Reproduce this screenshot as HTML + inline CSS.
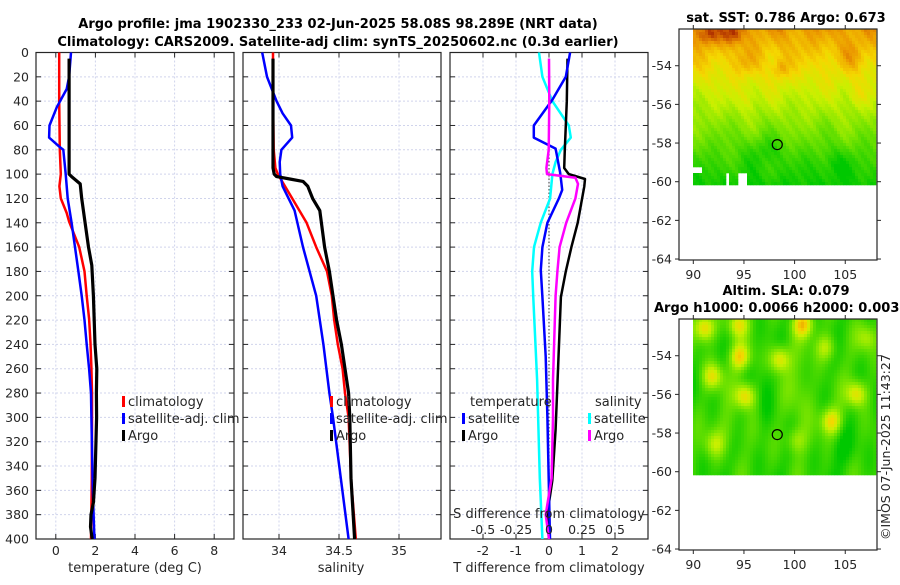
<!DOCTYPE html>
<html><head><meta charset="utf-8"><style>
body{margin:0;background:#fff}
svg text{font-family:"DejaVu Sans","Liberation Sans",sans-serif;fill:#262626}
</style></head><body>
<svg id="s" width="900" height="580" viewBox="0 0 900 580" xmlns="http://www.w3.org/2000/svg">
<text x="338" y="28" text-anchor="middle" font-size="13" font-weight="bold" style="fill:#000">Argo profile: jma 1902330_233 02-Jun-2025 58.08S 98.289E (NRT data)</text>
<text x="338" y="46" text-anchor="middle" font-size="13" font-weight="bold" style="fill:#000">Climatology: CARS2009. Satellite-adj clim: synTS_20250602.nc (0.3d earlier)</text>
<g id="g"></g>
</svg>
<script>
// ---- data (depths in m) ----
const climTDepth=[0,40,80,100,110,120,132,139,160,180,200,219,239,259,280,300,350,400];
const climT=[0.17,0.17,0.2,0.25,0.18,0.25,0.55,0.67,1.18,1.45,1.56,1.68,1.75,1.8,1.83,1.83,1.82,1.78];
const satTDepth=[0,20,30,45,60,70,78,80,100,120,140,160,180,200,220,240,260,280,300,360,400];
const satT=[0.77,0.67,0.55,0.05,-0.32,-0.34,0.22,0.38,0.5,0.6,0.8,0.97,1.14,1.31,1.45,1.56,1.68,1.78,1.8,1.87,1.95];
const argoTDepth=[5,100,102,108,120,140,160,175,200,240,260,280,300,350,370,380,390,400];
const argoT=[0.67,0.67,0.8,1.23,1.31,1.48,1.65,1.82,1.9,1.98,2.07,2.05,2.06,1.98,1.9,1.78,1.75,1.84];
const climSDepth=[0,40,80,95,100,110,120,140,160,180,200,220,240,260,280,300,350,400];
const climS=[33.95,33.95,33.956,33.97,33.99,34.05,34.11,34.23,34.31,34.4,34.44,34.46,34.49,34.53,34.55,34.58,34.6,34.64];
const satSDepth=[0,20,30,40,50,60,70,80,90,100,110,130,160,200,240,280,300,400];
const satS=[33.86,33.9,33.94,33.98,34.03,34.1,34.11,34.02,34.006,34.01,34.03,34.13,34.2,34.31,34.37,34.42,34.45,34.58];
const argoSDepth=[5,95,100,102,104,106,110,120,130,160,180,200,220,240,260,280,300,350,400];
const argoS=[33.95,33.95,33.96,33.98,34.09,34.2,34.24,34.28,34.34,34.38,34.42,34.45,34.48,34.52,34.55,34.58,34.59,34.6,34.63];
const dSatTDepth=[0,20,39,60,70,79,99,113,120,140,160,179,201,250,300,400];
const dSatT=[0.64,0.51,0.1,-0.46,-0.46,0.2,0.34,0.4,0.3,-0.05,-0.2,-0.25,-0.2,-0.1,-0.05,0.03];
const dArgoTDepth=[5,40,80,95,100,104,110,140,160,180,201,269,310,352,379,400];
const dArgoT=[0.56,0.54,0.48,0.46,0.6,1.09,1.07,0.87,0.68,0.51,0.36,0.26,0.2,0.1,-0.05,0];
const dSatSDepth=[0,20,40,60,70,80,90,100,120,140,160,180,200,269,350,400];
const dSatS=[-0.076,-0.05,0.026,0.15,0.165,0.09,0.05,0.026,0.008,-0.063,-0.114,-0.127,-0.12,-0.09,-0.07,-0.05];
const dArgoSDepth=[5,40,80,95,100,103,108,120,140,160,180,200,269,300,350,380,400];
const dArgoS=[0,0.002,-0.002,-0.02,-0.015,0.2,0.22,0.2,0.13,0.08,0.064,0.05,0.03,0.03,0.02,-0.025,0];
const depthTicks=[0,20,40,60,80,100,120,140,160,180,200,220,240,260,280,300,320,340,360,380,400];
const tTicks=[0,2,4,6,8];
const sTicks=[34,34.5,35];
const dTicks=[-2,-1,0,1,2];
const dTickLabels=['-2','-1','0','1','2'];
const dsTicks=[-0.5,-0.25,0,0.25,0.5];
const dsTickLabels=['-0.5','-0.25','0','0.25','0.5'];
const mapLonTicks=[90,95,100,105];
const mapLatTicks=[-54,-56,-58,-60,-62,-64];
const argoLon=98.289, argoLat=-58.08;

const NS='http://www.w3.org/2000/svg';
const G=document.getElementById('g');
function mk(tag,attrs,parent){const e=document.createElementNS(NS,tag);for(const k in attrs)e.setAttribute(k,attrs[k]);(parent||G).appendChild(e);return e;}
const Y0=52.5,Y1=539;
const yD=d=>Y0+d*(Y1-Y0)/400;
const xT=v=>36+(v+1)*19.8;
const xS=v=>243+(v-33.7)*120;
const xD=v=>450+(v+3)*33;
const xDS=v=>xD(v*4);
const panels=[{x0:36,x1:234},{x0:243,x1:441},{x0:450,x1:648}];

function panelFrame(p,xs,vals,labels,name){
  const g=mk('g',{});
  
  
  depthTicks.forEach(d=>{
    const l=mk('line',{x1:p.x0,x2:p.x1,y1:yD(d),y2:yD(d),stroke:'#d0d4ec','stroke-width':1,'stroke-dasharray':'2,2'},g);
    
    
    mk('line',{x1:p.x0,x2:p.x0+5,y1:yD(d),y2:yD(d),stroke:'#262626'},g);
    mk('line',{x1:p.x1-5,x2:p.x1,y1:yD(d),y2:yD(d),stroke:'#262626'},g);
  });
  vals.forEach((v,i)=>{
    const x=xs(v);
    const l=mk('line',{x1:x,x2:x,y1:Y0,y2:Y1,stroke:'#d0d4ec','stroke-width':1,'stroke-dasharray':'2,2'},g);
    
    
    mk('line',{x1:x,x2:x,y1:Y1,y2:Y1-5,stroke:'#262626'},g);
    mk('line',{x1:x,x2:x,y1:Y0,y2:Y0+5,stroke:'#262626'},g);
    const t=mk('text',{x:x,y:555,'text-anchor':'middle','font-size':12.5},g);
    t.textContent=labels[i];
    
    
  });
  mk('rect',{x:p.x0,y:Y0,width:p.x1-p.x0,height:Y1-Y0,fill:'none',stroke:'#262626','stroke-width':1.2},g);
}
panelFrame(panels[0],xT,tTicks,tTicks.map(String),'temperature-panel');
panelFrame(panels[1],xS,sTicks,['34','34.5','35'],'salinity-panel');
panelFrame(panels[2],xD,dTicks,dTickLabels,'difference-panel');
depthTicks.forEach(d=>{
  const t=mk('text',{x:29,y:yD(d)+4.5,'text-anchor':'end','font-size':12.5});
  t.textContent=d;
  
  
});
{const l=mk('line',{x1:xD(0),x2:xD(0),y1:Y0,y2:Y1,stroke:'#555','stroke-width':1.2,'stroke-dasharray':'1.5,2'});
}

function series(depths,vals,xs,color,w,name){
  const pts=depths.map((d,i)=>xs(vals[i]).toFixed(1)+','+yD(d).toFixed(1)).join(' ');
  const p=mk('polyline',{points:pts,fill:'none',stroke:color,'stroke-width':w,'stroke-linejoin':'round'});
  
  
}
series(climTDepth,climT,xT,'#ff0000',2.5,'climatology-temperature-line');
series(satTDepth,satT,xT,'#0000ff',2.5,'satellite-temperature-line');
series(argoTDepth,argoT,xT,'#000',3.2,'argo-temperature-line');
series(climSDepth,climS,xS,'#ff0000',2.5,'climatology-salinity-line');
series(satSDepth,satS,xS,'#0000ff',2.5,'satellite-salinity-line');
series(argoSDepth,argoS,xS,'#000',3.2,'argo-salinity-line');
series(dSatSDepth,dSatS,xDS,'#00ffff',2.5,'satellite-salinity-diff-line');
series(dArgoTDepth,dArgoT,xD,'#000',2.5,'argo-temperature-diff-line');
series(dSatTDepth,dSatT,xD,'#0000ff',2.5,'satellite-temperature-diff-line');
series(dArgoSDepth,dArgoS,xDS,'#ff00ff',2.5,'argo-salinity-diff-line');

{const t=mk('text',{x:549,y:518,'text-anchor':'middle','font-size':13});t.textContent='S difference from climatology';
}
dsTicks.forEach((v,i)=>{const t=mk('text',{x:xDS(v),y:534,'text-anchor':'middle','font-size':12.5});t.textContent=dsTickLabels[i];
});

function label(x,y,txt,name,anchor){const t=mk('text',{x:x,y:y,'font-size':13,'text-anchor':anchor||'start'});t.textContent=txt;
return t;}
label(135,572,'temperature (deg C)','x-axis-title-temperature','middle');
label(341,572,'salinity','x-axis-title-salinity','middle');
label(549,572,'T difference from climatology','x-axis-title-difference','middle');

function legend(x,y,color,txt,name){
  const r=mk('rect',{x:x,y:y-10,width:3,height:11,fill:color});
  
  label(x+6,y,txt,name);
}
legend(122,406,'#ff0000','climatology','legend-climatology');
legend(122,423,'#0000ff','satellite-adj. clim','legend-satellite');
legend(122,440,'#000','Argo','legend-argo');
legend(330,406,'#ff0000','climatology','legend-climatology-s');
legend(330,423,'#0000ff','satellite-adj. clim','legend-satellite-s');
legend(330,440,'#000','Argo','legend-argo-s');
label(470,406,'temperature','legend-temperature-heading');
legend(462,423,'#0000ff','satellite','legend-satellite-t');
legend(462,440,'#000','Argo','legend-argo-t');
label(595,406,'salinity','legend-salinity-heading');
legend(588,423,'#00ffff','satellite','legend-satellite-sdiff');
legend(588,440,'#ff00ff','Argo','legend-argo-sdiff');

// ---- maps ----
const MX0=679,MX1=877;
const mxLon=v=>693.3+(v-90)*10.13;
function cmap(v){
  const st=[[0,[0,200,0]],[0.3,[130,230,0]],[0.45,[200,240,0]],[0.6,[245,215,0]],[0.78,[235,150,0]],[0.9,[205,90,0]],[1,[150,15,0]]];
  v=Math.max(0,Math.min(1,v));
  for(let i=1;i<st.length;i++){if(v<=st[i][0]){const a=st[i-1],b=st[i],f=(v-a[0])/(b[0]-a[0]);
    return 'rgb('+a[1].map((c,j)=>Math.round(c+(b[1][j]-c)*f)).join(',')+')';}}
}
function drawMap(top,field,name){
  const yLat=v=>top+(-52.1-v)*19.33;
  const g=mk('g',{});
  const bottom=top+231;
  const dyEnd=yLat(-60.1);
  for(let y=top;y<dyEnd;y+=3){for(let x=693;x<876;x+=3){
    const lon=90+(x-693)/10.13, lat=-52.1-(y-top)/19.33;
    if(field===0 && lat<-59.2 && ((lon<90.7&&lat>-59.5)||(lon>94.3&&lon<95.2&&lat<-59.5)||(lon>93&&lon<93.4&&lat<-59.5))) continue;
    const v=field===0?sst(lon,lat):sla(lon,lat);
    mk('rect',{x:x,y:y,width:3.3,height:3.3,fill:cmap(v)},g);
  }}
  mk('rect',{x:MX0,y:top,width:MX1-MX0,height:bottom-top,fill:'none',stroke:'#262626','stroke-width':1.2},g);
  mapLatTicks.forEach(v=>{const y=yLat(v);mk('line',{x1:MX0,x2:MX0-4,y1:y,y2:y,stroke:'#262626'},g);mk('line',{x1:MX1,x2:MX1+4,y1:y,y2:y,stroke:'#262626'},g);
    const t=mk('text',{x:672,y:y+4.5,'text-anchor':'end','font-size':12.5},g);t.textContent=v;
    });
  mapLonTicks.forEach(v=>{const x=mxLon(v);mk('line',{x1:x,x2:x,y1:bottom,y2:bottom+4,stroke:'#262626'},g);mk('line',{x1:x,x2:x,y1:top,y2:top-4,stroke:'#262626'},g);
    const t=mk('text',{x:x,y:bottom+19,'text-anchor':'middle','font-size':12.5},g);t.textContent=v;
    });
  const c=mk('circle',{cx:mxLon(argoLon),cy:yLat(argoLat),r:5,fill:'none',stroke:'#000','stroke-width':1.2},g);
  
}
function gb(lon,lat,l0,a0,sl,sa){return Math.exp(-((lon-l0)**2)/sl-((lat-a0)**2)/sa);}
function sst(lon,lat){
  let v=0.4+(lat+56)*0.09;
  v+=0.04*Math.sin(lon*1.3)*Math.cos(lat*1.7)+0.03*Math.sin(lon*2.1+lat*1.4);
  v+=0.22*gb(lon,lat,91.3,-52.3,1.5,0.3)+0.22*gb(lon,lat,93.8,-52.3,1.0,0.3)+0.18*gb(lon,lat,98.5,-54.1,0.6,0.25);
  v+=0.1*gb(lon,lat,95,-53.8,1.5,0.5)+0.1*gb(lon,lat,105.5,-53.5,1.5,0.6)+0.1*gb(lon,lat,106,-55.5,0.8,0.4)+0.08*gb(lon,lat,95.2,-55.7,0.8,0.4);
  v-=0.12*gb(lon,lat,97,-58.3,3,0.6)+0.1*gb(lon,lat,104,-59,4,0.6);
  v+=0.025*Math.sin(lon*5.3+lat*7.1);
  return v;
}
function sla(lon,lat){
  let v=0.12+0.07*Math.sin(lon*1.1+lat*0.4)*Math.cos(lat*1.3)+0.05*Math.sin(lon*2.3-lat*0.9);
  const blobs=[[91,-52.5,0.5],[94.3,-52.3,0.4],[100.7,-52.3,0.5],[94.5,-54,0.45],[98.4,-54.1,0.45],[91.8,-55,0.4],[95,-56,0.5],[106,-55.9,0.45],[103.5,-57.3,0.45],[100,-58.3,0.25],[92,-58.5,0.25],[103,-53.5,0.3],[107,-53,0.25]];
  blobs.forEach(b=>{v+=b[2]*gb(lon,lat,b[0],b[1],1.0,0.45);});
  v+=0.15*gb(lon,lat,100.5,-56,1.5,4)+0.12*gb(lon,lat,93.5,-57.8,2,1.2);
  v-=0.1*gb(lon,lat,104.5,-58.8,2,0.8)+0.1*gb(lon,lat,97,-56,0.6,3);
  return v;
}
drawMap(29,0,'sst-map');
drawMap(319,1,'sla-map');
{const t=mk('text',{x:786,y:22,'text-anchor':'middle','font-size':13,'font-weight':'bold',style:'fill:#000'});t.textContent='sat. SST: 0.786 Argo: 0.673';
}
{const t=mk('text',{x:786,y:295,'text-anchor':'middle','font-size':13,'font-weight':'bold',style:'fill:#000'});t.textContent='Altim. SLA: 0.079';
}
{const t=mk('text',{x:654,y:312,'font-size':13,'font-weight':'bold',style:'fill:#000'});t.textContent='Argo h1000: 0.0066 h2000: 0.003';
}
{const t=mk('text',{x:0,y:0,'font-size':12.5,transform:'translate(890,540) rotate(-90)'});t.textContent='©IMOS 07-Jun-2025 11:43:27';
}
</script>
</body></html>
